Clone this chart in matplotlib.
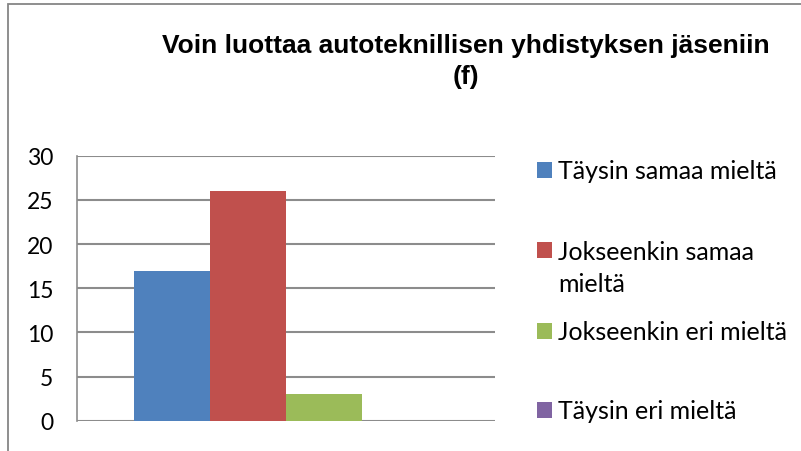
import matplotlib
matplotlib.use("Agg")
import matplotlib.pyplot as plt
from matplotlib.patches import Rectangle

title = "Voin luottaa autoteknillisen yhdistyksen jäseniin\n(f)"
series = ["Täysin samaa mieltä", "Jokseenkin samaa mieltä",
          "Jokseenkin eri mieltä", "Täysin eri mieltä"]
values = [17, 26, 3, 0]
colors = ["#4F81BD", "#C0504D", "#9BBB59", "#8064A2"]
yticks = [0, 5, 10, 15, 20, 25, 30]

plt.rcParams['font.family'] = ['Lato', 'DejaVu Sans']

fig = plt.figure(figsize=(8.01, 4.52), dpi=100)
ax = fig.add_axes([77 / 801, 30.3 / 452, 418 / 801, 265 / 452])

w = 1 / 5.5
handles = []
for i, (lab, v, c) in enumerate(zip(series, values, colors)):
    b = ax.bar((i - 1.5) * w, v, width=w, color=c, label=lab, zorder=3)
    handles.append(b)

ax.set_xlim(-0.5, 0.5)
ax.set_ylim(0, 30)
ax.set_yticks(yticks)
ax.set_xticks([])
ax.yaxis.grid(True, color="#8c8c8c", linewidth=1.5, zorder=0)
ax.tick_params(axis="y", length=0, pad=17, labelsize=16.5)
for s in ["top", "right", "bottom"]:
    ax.spines[s].set_visible(False)
ax.spines["left"].set_color("#8c8c8c")
ax.spines["left"].set_linewidth(1.2)

fig.text(466 / 801, 1 - 61.5 / 452, title, ha="center", va="center",
         fontsize=19, fontweight="bold", family=["Liberation Sans"],
         linespacing=1.38)

# Excel-style legend: one entry per slot, long label wrapped after the marker line
legend_y = [172, 252, 333, 412]
labels = ["Täysin samaa mieltä", "Jokseenkin samaa",
          "Jokseenkin eri mieltä", "Täysin eri mieltä"]
for h, lab, y in zip(handles, labels, legend_y):
    leg = fig.legend([h], [lab], loc="center left",
                     bbox_to_anchor=(537 / 801, 1 - y / 452),
                     bbox_transform=fig.transFigure, frameon=False,
                     fontsize=18, handlelength=0.6, handleheight=0.6,
                     handletextpad=0.25, borderpad=0, borderaxespad=0)
fig.text(558 / 801, 1 - 285 / 452, "mieltä", ha="left", va="center", fontsize=18)

fig.patches.append(Rectangle((8 / 801, -0.1), 1.0, 1.1 - 5 / 452,
                             transform=fig.transFigure, fill=False,
                             edgecolor="#868686", linewidth=1.3))

fig.savefig("out.png", dpi=100)
